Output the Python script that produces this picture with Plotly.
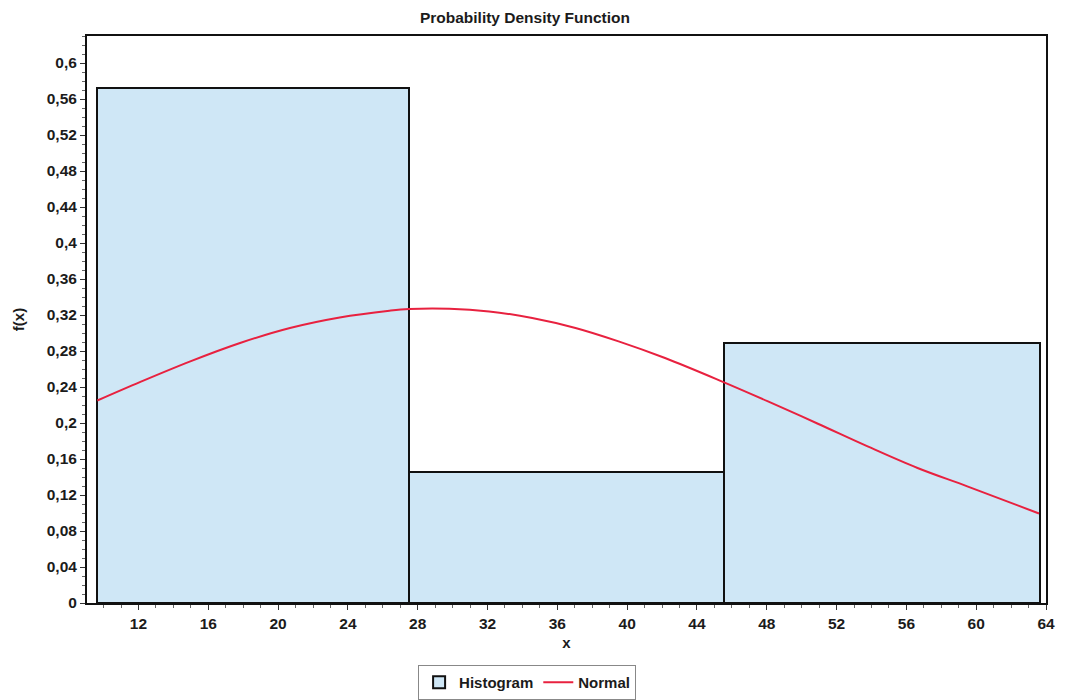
import plotly.graph_objects as go

# Histogram bins (edges) and density heights
bin_edges = [9.6, 27.5, 45.55, 63.65]
hist_density = [0.572, 0.146, 0.289]

# Fitted normal density curve, sampled points
normal_x = [9.64, 12.11, 14.97, 17.82, 20.68, 23.53, 26.38, 27.5, 29.81, 32.09,
            34.56, 37.04, 39.51, 42.17, 45.45, 48.07, 50.93, 53.78, 56.64, 59.49, 63.6]
normal_y = [0.225, 0.2457, 0.2685, 0.2889, 0.3056, 0.3173, 0.3248, 0.3267, 0.327, 0.324,
            0.3167, 0.3056, 0.2907, 0.2722, 0.246, 0.224, 0.1992, 0.174, 0.150, 0.1296, 0.0995]

# Axis ticks
x_ticks = [12, 16, 20, 24, 28, 32, 36, 40, 44, 48, 52, 56, 60, 64]
y_ticks = [round(0.04 * i, 2) for i in range(16)]

centers = [(a + b) / 2 for a, b in zip(bin_edges[:-1], bin_edges[1:])]
widths = [b - a for a, b in zip(bin_edges[:-1], bin_edges[1:])]

FONT = "Liberation Sans, Arial, sans-serif"
INK = "#1b1b1b"
TXT = dict(family=FONT, size=15, color=INK, weight="bold")
TICK = dict(family=FONT, size=15.5, color=INK, weight="bold")

fig = go.Figure()
fig.add_trace(go.Bar(
    x=centers, y=hist_density, width=widths, name="Histogram",
    marker=dict(color="#cfe7f6", line=dict(color="#111111", width=2)),
))
fig.add_trace(go.Scatter(
    x=normal_x, y=normal_y, mode="lines", name="Normal",
    line=dict(color="#e8213f", width=2, shape="spline", smoothing=1.0),
))

fig.update_layout(
    width=1067, height=700,
    margin=dict(l=87, r=19, t=36, b=97),
    paper_bgcolor="white", plot_bgcolor="white",
    separators=",.",
    font=TXT,
    title=dict(text="Probability Density Function", x=0.492, xanchor="center",
               y=0.975, yanchor="middle", font=dict(TXT, size=15.5)),
    showlegend=True,
    legend=dict(orientation="h", xref="container", x=0.494, xanchor="center",
                yref="container", y=0.0, yanchor="bottom",
                bordercolor="#888888", borderwidth=1, bgcolor="white",
                font=TXT, itemwidth=30, tracegroupgap=0),
    bargap=0,
)
fig.update_xaxes(
    range=[9.05, 64.0], tickvals=x_ticks, ticks="outside", ticklen=5,
    tickwidth=1, tickcolor="#333333", tickfont=TICK,
    minor=dict(dtick=1, ticks="outside", ticklen=3, tickcolor="#666666", showgrid=False),
    showline=True, linecolor="#111111", linewidth=2, mirror=True,
    showgrid=False, zeroline=False,
    title=dict(text="x", standoff=7, font=TXT),
)
fig.update_yaxes(
    range=[0, 0.63], tickvals=y_ticks, ticks="outside", ticklen=5,
    tickwidth=1, tickcolor="#333333", tickfont=TICK,
    minor=dict(dtick=0.01, ticks="outside", ticklen=3, tickcolor="#666666", showgrid=False),
    showline=True, linecolor="#111111", linewidth=2, mirror=True,
    showgrid=False, zeroline=False,
    title=dict(text="f(x)", standoff=18, font=TXT),
)

fig.write_html("out.html")
